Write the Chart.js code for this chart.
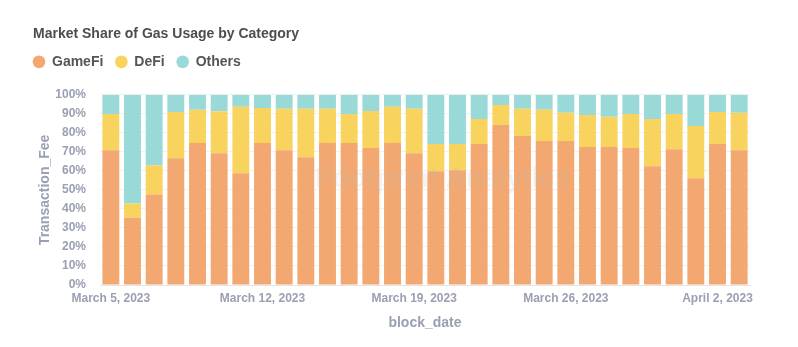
<!DOCTYPE html>
<html>
<head>
<meta charset="utf-8">
<script src="https://cdn.jsdelivr.net/npm/chart.js@4/dist/chart.umd.min.js"></script>
<style>
  html, body { margin: 0; padding: 0; background: #fff; }
  #wrap { width: 798px; height: 347px; position: relative; }
</style>
</head>
<body>
<div id="wrap"><canvas id="c" width="798" height="347"></canvas></div>
<script>
const categories = [
  "March 5, 2023","March 6, 2023","March 7, 2023","March 8, 2023","March 9, 2023","March 10, 2023","March 11, 2023",
  "March 12, 2023","March 13, 2023","March 14, 2023","March 15, 2023","March 16, 2023","March 17, 2023","March 18, 2023",
  "March 19, 2023","March 20, 2023","March 21, 2023","March 22, 2023","March 23, 2023","March 24, 2023","March 25, 2023",
  "March 26, 2023","March 27, 2023","March 28, 2023","March 29, 2023","March 30, 2023","March 31, 2023","April 1, 2023",
  "April 2, 2023","April 3, 2023"
];
const gamefi = [70.9,35.4,47.6,66.7,74.6,69.3,58.7,74.6,70.9,67.2,74.6,74.6,72.0,74.6,69.3,59.8,60.3,74.1,84.1,78.3,75.7,75.7,72.5,72.5,72.0,62.4,71.4,56.1,74.1,70.9];
const defi   = [19.0,7.5,15.4,24.3,17.6,22.1,35.0,18.5,21.7,25.4,18.0,15.3,19.5,19.1,23.3,14.3,13.8,13.2,10.6,14.3,16.4,14.8,16.9,15.9,17.9,24.9,18.5,27.5,16.9,19.6];
const others = [10.1,57.1,37.0,9.0,7.8,8.6,6.3,6.9,7.4,7.4,7.4,10.1,8.5,6.3,7.4,25.9,25.9,12.7,5.3,7.4,7.9,9.5,10.6,11.6,10.1,12.7,10.1,16.4,9.0,9.5];
const yTicks = [0,10,20,30,40,50,60,70,80,90,100];

const tickColor = '#9aa0b2';
const FONT = "'Liberation Sans', Arial, Helvetica, sans-serif";

const watermark = {
  id: 'watermark',
  afterDatasetsDraw(chart) {
    const { ctx } = chart;
    ctx.save();
    ctx.font = "bold 28px " + FONT;
    ctx.fillStyle = 'rgba(190,190,190,0.18)';
    ctx.textBaseline = 'middle';
    ctx.fillText('Footprint Analytics', 315, 179);
    ctx.restore();
  }
};

const legendSpacer = {
  id: 'legendSpacer',
  beforeLayout(chart) {
    const lg = chart.legend;
    if (lg && !lg._patched) {
      const orig = lg.fit;
      lg.fit = function() { orig.call(this); this.height += 16; };
      lg._patched = true;
    }
  },
  afterLayout(chart) {
    const lg = chart.legend;
    if (lg) { lg.left -= 12; lg.right -= 12; }
  }
};

new Chart(document.getElementById('c'), {
  type: 'bar',
  data: {
    labels: categories,
    datasets: [
      { label: 'GameFi', data: gamefi, backgroundColor: '#f2a870' },
      { label: 'DeFi', data: defi, backgroundColor: '#f8d35e' },
      { label: 'Others', data: others, backgroundColor: '#99dad9' }
    ]
  },
  options: {
    responsive: false,
    animation: false,
    devicePixelRatio: 1,
    layout: { padding: { left: 33, right: 48, top: 16, bottom: 11 } },
    datasets: { bar: { barPercentage: 0.78, categoryPercentage: 1.0, borderWidth: 0 } },
    plugins: {
      tooltip: { enabled: false },
      title: {
        display: true,
        text: 'Market Share of Gas Usage by Category',
        align: 'start',
        color: '#4d4d4d',
        font: { family: FONT, size: 14, weight: 'bold' },
        padding: { top: 10, bottom: 0 }
      },
      legend: {
        display: true,
        align: 'start',
        labels: {
          usePointStyle: true,
          pointStyle: 'circle',
          boxWidth: 12,
          boxHeight: 9,
          padding: 12,
          color: '#555555',
          font: { family: FONT, size: 14, weight: 'bold' }
        }
      }
    },
    scales: {
      x: {
        stacked: true,
        grid: { display: false, drawTicks: false },
        border: { display: true, color: '#e6e6e6' },
        ticks: {
          autoSkip: false,
          maxRotation: 0,
          color: tickColor,
          font: { family: FONT, size: 12, weight: 'bold' },
          padding: 6,
          callback: function(v, i) { return i % 7 === 0 ? categories[i] : ''; }
        },
        title: {
          display: true,
          text: 'block_date',
          color: tickColor,
          font: { family: FONT, size: 14, weight: 'bold' },
          padding: { top: 8 }
        },
        afterFit(scale) { scale.height = 51; }
      },
      y: {
        stacked: true,
        min: 0,
        max: 100,
        afterBuildTicks(scale) { scale.ticks = yTicks.map(v => ({ value: v })); },
        grid: { color: '#f0f0f0', drawTicks: false },
        border: { display: false },
        ticks: {
          color: tickColor,
          font: { family: FONT, size: 12, weight: 'bold' },
          padding: 14,
          callback: v => v + '%'
        },
        title: {
          display: true,
          text: 'Transaction_Fee',
          color: tickColor,
          font: { family: FONT, size: 14, weight: 'bold' },
          padding: { bottom: 0 }
        },
        afterFit(scale) { scale.width = 67; }
      }
    }
  },
  plugins: [watermark, legendSpacer]
});
</script>
</body>
</html>
